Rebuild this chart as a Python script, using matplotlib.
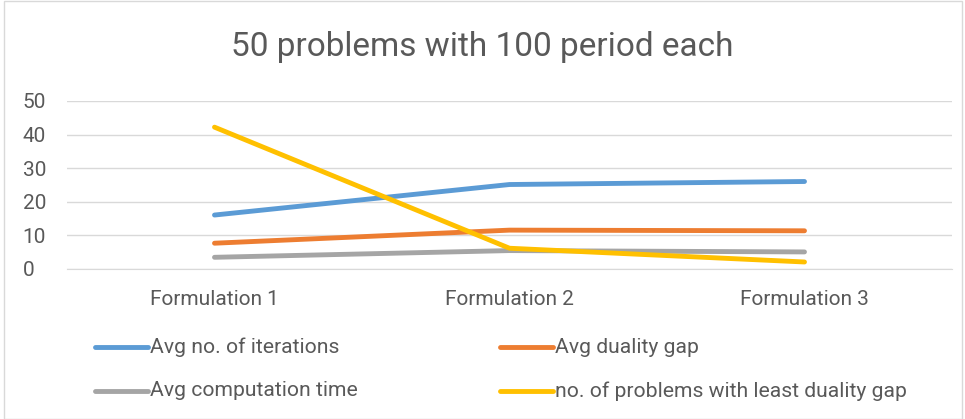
import matplotlib
matplotlib.use('Agg')
import matplotlib.pyplot as plt
from matplotlib.lines import Line2D
from matplotlib.patches import Rectangle

categorias = ['Formulation 1', 'Formulation 2', 'Formulation 3']
avgIteracoes = [16, 25.1, 26]
avgGap = [7.6, 11.5, 11.3]
avgTempo = [3.4, 5.4, 5.0]
problemasMenorGap = [42.2, 6.1, 2.0]

series = [
    ('Avg no. of iterations', avgIteracoes, '#5B9BD5'),
    ('Avg duality gap', avgGap, '#ED7D31'),
    ('Avg computation time', avgTempo, '#A5A5A5'),
    ('no. of problems with least duality gap', problemasMenorGap, '#FFC000'),
]

plt.rcParams['font.family'] = ['Roboto', 'DejaVu Sans']
cinza = '#595959'

fig = plt.figure(figsize=(9.65, 4.19), dpi=100)
ax = fig.add_axes([67 / 965, 150.3 / 419, 885 / 965, 167.7 / 419])

x = list(range(len(categorias)))
for nome, valores, cor in series:
    ax.plot(x, valores, color=cor, lw=3.5, solid_capstyle='round', label=nome)

ax.set_xlim(-0.5, 2.5)
ax.set_ylim(0, 50)
ax.set_yticks(range(0, 51, 10))
ax.set_xticks(x)
ax.set_xticklabels(categorias)
ax.grid(axis='y', color='#D9D9D9', lw=1)
ax.set_axisbelow(True)
for lado in ['top', 'right', 'left']:
    ax.spines[lado].set_visible(False)
ax.spines['bottom'].set_color('#D9D9D9')
ax.tick_params(length=0, colors=cinza, labelsize=15)
ax.tick_params(axis='y', pad=32)
ax.tick_params(axis='x', pad=15)
for t in ax.get_yticklabels():
    t.set_horizontalalignment('left')

fig.text(0.5, 1 - 47 / 419, '50 problems with 100 period each', ha='center', va='center',
         fontsize=24, color=cinza)

# legenda manual em duas colunas
posicoes = [(95, 347), (500, 347), (95, 391), (500, 391)]
for (nome, valores, cor), (px, py) in zip(series, posicoes):
    yf = 1 - py / 419
    fig.add_artist(Line2D([px / 965, (px + 53) / 965], [yf, yf], color=cor, lw=3.5,
                          solid_capstyle='round'))
    fig.text((px + 55) / 965, yf, nome, ha='left', va='center', fontsize=15.2, color=cinza)

fig.add_artist(Rectangle((4 / 965, 0.5 / 419), 958 / 965, 417 / 419, transform=fig.transFigure,
                         fill=False, edgecolor='#D9D9D9', lw=1))

plt.savefig('out.png', dpi=100)
plt.close()
